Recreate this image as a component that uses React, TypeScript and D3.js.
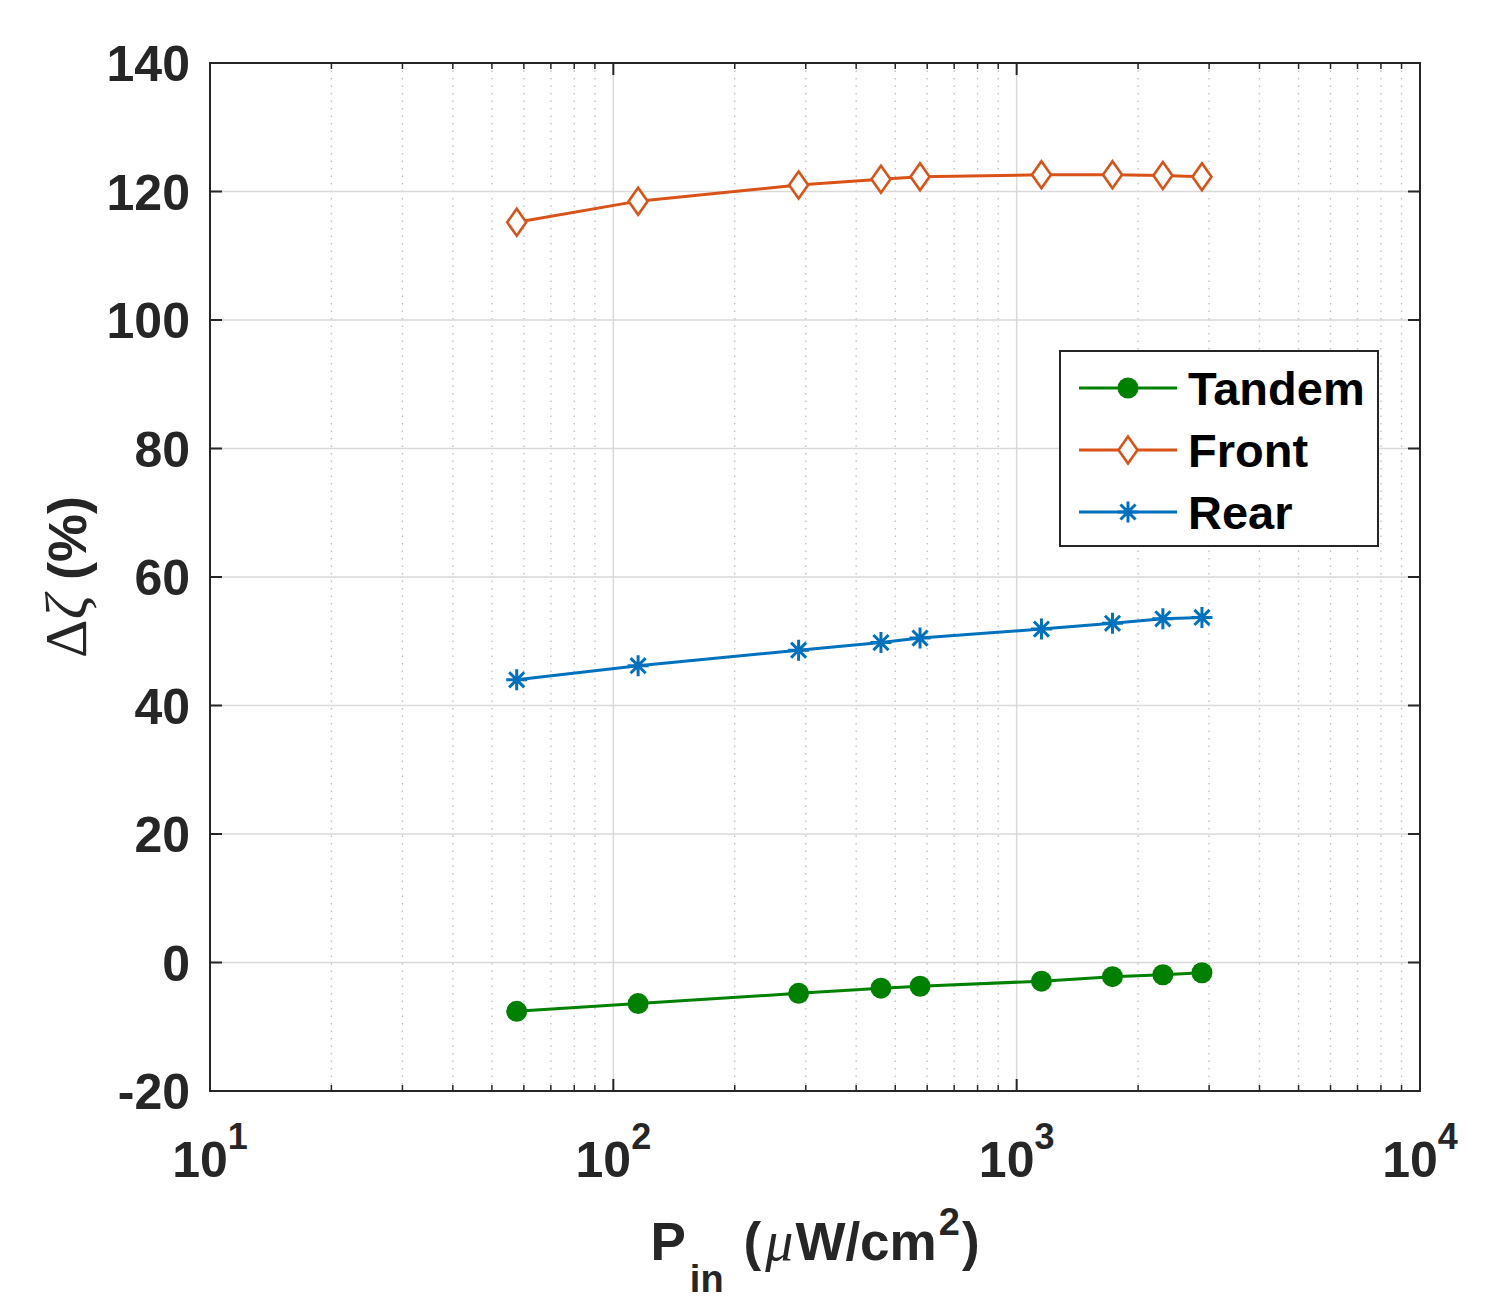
import * as d3 from "d3";

const POWER = [57.6, 115.2, 288, 460.8, 576, 1152, 1728, 2304, 2880];
const TANDEM = [-7.6, -6.4, -4.8, -4.0, -3.7, -2.9, -2.2, -1.9, -1.6];
const FRONT = [115.2, 118.5, 121.0, 121.9, 122.3, 122.6, 122.6, 122.5, 122.3];
const REAR = [44.0, 46.2, 48.6, 49.8, 50.5, 51.9, 52.8, 53.5, 53.7];

const Y_TICKS = [-20, 0, 20, 40, 60, 80, 100, 120, 140];
const X_DECADES = [1, 2, 3, 4];

const SERIES = [
  { name: "Tandem", values: TANDEM, color: "#008000", marker: "circle" },
  { name: "Front", values: FRONT, color: "#D95319", marker: "diamond" },
  { name: "Rear", values: REAR, color: "#0072BD", marker: "asterisk" },
];

const W = 1494;
const H = 1309;
const M = { left: 210, right: 1420, top: 63, bottom: 1091 };
const AXIS = "#262626";
const FONT = "'Liberation Sans', Arial, Helvetica, sans-serif";
const SERIF = "'Liberation Serif', 'Times New Roman', serif";

function Marker({ kind, x, y, color }: { kind: string; x: number; y: number; color: string }) {
  if (kind === "circle") return <circle cx={x} cy={y} r={10.5} fill={color} />;
  if (kind === "diamond")
    return (
      <path
        d={`M${x},${y - 13.5}L${x + 9.5},${y}L${x},${y + 13.5}L${x - 9.5},${y}Z`}
        fill="#fff"
        stroke={color}
        strokeWidth={2.6}
      />
    );
  const r = 10.5;
  const d = r * 0.72;
  return (
    <path
      d={`M${x},${y - r}V${y + r}M${x - r},${y}H${x + r}M${x - d},${y - d}L${x + d},${y + d}M${x - d},${y + d}L${x + d},${y - d}`}
      stroke={color}
      strokeWidth={3}
      fill="none"
    />
  );
}

export default function App() {
  const x = d3.scaleLog().domain([10, 10000]).range([M.left, M.right]);
  const y = d3.scaleLinear().domain([-20, 140]).range([M.bottom, M.top]);

  const minor: number[] = [];
  [10, 100, 1000].forEach((b) => {
    for (let k = 2; k <= 9; k++) minor.push(b * k);
  });
  const majors = X_DECADES.map((p) => Math.pow(10, p));

  const line = d3
    .line<number>()
    .x((_, i) => x(POWER[i]))
    .y((d) => y(d));

  const legX = 1060;
  const legY = 351;
  const legRows = [388, 450, 512];

  return (
    <svg
      width={W}
      height={H}
      style={{ position: "absolute", left: 0, top: 0, background: "#fff" }}
      fontFamily={FONT}
    >
      <rect width={W} height={H} fill="#fff" />

      {/* grid */}
      {minor.map((v) => (
        <line
          key={"mg" + v}
          x1={x(v)}
          x2={x(v)}
          y1={M.top}
          y2={M.bottom}
          stroke="#bdbdbd"
          strokeWidth={1.3}
          strokeDasharray="1.5 6"
        />
      ))}
      {majors.map((v) => (
        <line key={"xg" + v} x1={x(v)} x2={x(v)} y1={M.top} y2={M.bottom} stroke="#d9d9d9" strokeWidth={1.5} />
      ))}
      {Y_TICKS.map((v) => (
        <line key={"yg" + v} x1={M.left} x2={M.right} y1={y(v)} y2={y(v)} stroke="#d9d9d9" strokeWidth={1.5} />
      ))}

      {/* series */}
      {SERIES.map((s) => (
        <g key={s.name}>
          <path d={line(s.values) || ""} fill="none" stroke={s.color} strokeWidth={3} />
          {s.values.map((v, i) => (
            <Marker key={i} kind={s.marker} x={x(POWER[i])} y={y(v)} color={s.color} />
          ))}
        </g>
      ))}

      {/* axes box and ticks */}
      <rect
        x={M.left}
        y={M.top}
        width={M.right - M.left}
        height={M.bottom - M.top}
        fill="none"
        stroke={AXIS}
        strokeWidth={2}
      />
      {Y_TICKS.map((v) => (
        <g key={"yt" + v} stroke={AXIS} strokeWidth={2}>
          <line x1={M.left} x2={M.left + 12} y1={y(v)} y2={y(v)} />
          <line x1={M.right} x2={M.right - 12} y1={y(v)} y2={y(v)} />
        </g>
      ))}
      {majors.map((v) => (
        <g key={"xt" + v} stroke={AXIS} strokeWidth={2}>
          <line x1={x(v)} x2={x(v)} y1={M.bottom} y2={M.bottom - 12} />
          <line x1={x(v)} x2={x(v)} y1={M.top} y2={M.top + 12} />
        </g>
      ))}
      {minor.map((v) => (
        <g key={"xm" + v} stroke={AXIS} strokeWidth={1.5}>
          <line x1={x(v)} x2={x(v)} y1={M.bottom} y2={M.bottom - 6} />
          <line x1={x(v)} x2={x(v)} y1={M.top} y2={M.top + 6} />
        </g>
      ))}

      {/* tick labels */}
      {Y_TICKS.map((v) => (
        <text
          key={"yl" + v}
          x={190}
          y={y(v) + 18}
          textAnchor="end"
          fontSize={50}
          fontWeight="bold"
          fill={AXIS}
        >
          {v}
        </text>
      ))}
      {X_DECADES.map((p) => (
        <text
          key={"xl" + p}
          x={x(Math.pow(10, p))}
          y={1177}
          textAnchor="middle"
          fontSize={50}
          fontWeight="bold"
          fill={AXIS}
        >
          10
          <tspan dy={-28} fontSize={36}>
            {p}
          </tspan>
        </text>
      ))}

      {/* axis labels */}
      <text
        x={(M.left + M.right) / 2}
        y={1260}
        textAnchor="middle"
        fontSize={53}
        fontWeight="bold"
        fill={AXIS}
      >
        P
        <tspan dx={4} dy={32} fontSize={38}>
          in
        </tspan>
        <tspan dx={20} dy={-32}>
          (
        </tspan>
        <tspan dx={4} fontFamily={SERIF} fontStyle="italic" fontWeight="normal" fontSize={56}>
          μ
        </tspan>
        <tspan dx={2}>W/cm</tspan>
        <tspan dx={2} dy={-25} fontSize={38}>
          2
        </tspan>
        <tspan dx={2} dy={25}>
          )
        </tspan>
      </text>
      <text
        transform={`translate(86,${(M.top + M.bottom) / 2}) rotate(-90)`}
        textAnchor="middle"
        fontSize={54}
        fontWeight="bold"
        fill={AXIS}
        style={{ whiteSpace: "pre" }}
      >
        <tspan fontFamily={SERIF} fontWeight="normal" fontSize={60}>
          Δ
        </tspan>
        <tspan fontFamily={SERIF} fontStyle="italic" fontWeight="normal" fontSize={60}>
          ζ
        </tspan>
        <tspan> (%)</tspan>
      </text>

      {/* legend */}
      <rect x={legX} y={legY} width={318} height={195} fill="#fff" stroke={AXIS} strokeWidth={2} />
      {SERIES.map((s, i) => (
        <g key={"lg" + s.name}>
          <line x1={1079} x2={1177} y1={legRows[i]} y2={legRows[i]} stroke={s.color} strokeWidth={3} />
          <Marker kind={s.marker} x={1128} y={legRows[i]} color={s.color} />
          <text x={1188} y={legRows[i] + 17} fontSize={47} fontWeight="bold" fill="#000">
            {s.name}
          </text>
        </g>
      ))}
    </svg>
  );
}
